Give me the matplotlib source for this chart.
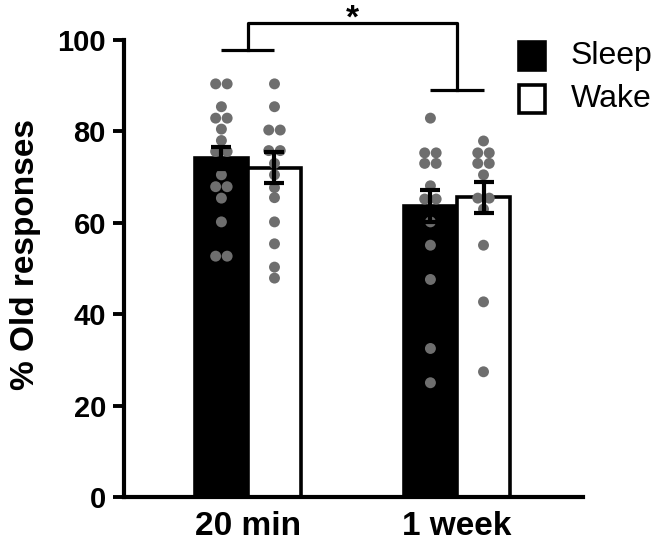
import matplotlib
matplotlib.use("Agg")
import matplotlib.pyplot as plt
from matplotlib.patches import Rectangle
import numpy as np

plt.rcParams['font.family'] = ['Liberation Sans', 'DejaVu Sans']

groups = ["20 min", "1 week"]
conditions = ["Sleep", "Wake"]
means = {"Sleep": [74.1, 63.7], "Wake": [72.1, 65.6]}
sems = {"Sleep": [2.4, 3.5], "Wake": [3.3, 3.4]}

sleep_20 = [90.4, 90.4, 85.4, 82.9, 82.9, 80.5, 78.0, 75.6, 75.6, 70.5, 67.9, 67.9, 65.4, 60.2, 52.7, 52.7]
wake_20 = [90.4, 85.4, 80.3, 80.3, 75.8, 75.8, 73.0, 70.5, 67.7, 65.5, 60.2, 55.4, 50.3, 47.9]
sleep_1w = [82.9, 75.3, 75.3, 73.0, 73.0, 68.1, 65.2, 65.2, 60.2, 55.1, 47.6, 32.5, 25.0]
wake_1w = [77.9, 75.3, 75.3, 73.0, 73.0, 70.5, 65.4, 65.4, 63.0, 55.1, 42.7, 27.4]
points = {"Sleep": [sleep_20, sleep_1w], "Wake": [wake_20, wake_1w]}

yticks = [0, 20, 40, 60, 80, 100]

fig = plt.figure(figsize=(6.61, 5.44), dpi=100)
ax = fig.add_axes([124/661, 47/544, 459/661, 457/544])

width = 0.254
x = np.arange(len(groups))
offsets = {"Sleep": -width/2, "Wake": width/2}
faces = {"Sleep": "black", "Wake": "white"}

for cond in conditions:
    xs = x + offsets[cond]
    ax.bar(xs, means[cond], width=width, color=faces[cond], edgecolor="black",
           linewidth=2.6, zorder=2)
    for gi, vals in enumerate(points[cond]):
        vals = np.array(vals)
        # swarm-like offsets for duplicate values
        px = np.zeros(len(vals))
        for v in np.unique(vals):
            idx = np.where(vals == v)[0]
            n = len(idx)
            for j, i in enumerate(idx):
                px[i] = (j - (n - 1) / 2) * 0.055
        ax.scatter(xs[gi] + px, vals, s=62, color="#6e6e6e", edgecolors="none", zorder=3)
    ax.errorbar(xs, means[cond], yerr=sems[cond], fmt="none", ecolor="black",
                elinewidth=3, capsize=7.5, capthick=3, zorder=4)

ax.set_xlim(-0.593, 1.603)
ax.set_ylim(0, 100)
ax.set_yticks(yticks)
ax.set_xticks(x)
ax.set_xticklabels(groups, fontsize=24, fontweight="bold")
ax.set_yticklabels([str(t) for t in yticks], fontsize=21, fontweight="bold")
ax.tick_params(axis="y", length=8, width=2.8, pad=5)
ax.tick_params(axis="x", length=0, pad=10)
for s in ["top", "right"]:
    ax.spines[s].set_visible(False)
for s in ["left", "bottom"]:
    ax.spines[s].set_linewidth(3)
ax.set_ylabel("% Old responses", fontsize=24, fontweight="bold")
ax.yaxis.set_label_coords(-0.18, 0.53)

# significance bracket
c0, c1 = x[0], x[1]
lw = 2.3
kw = dict(color="black", lw=lw, clip_on=False, solid_capstyle="butt")
ax.plot([c0 - width/2, c0 + width/2], [97.8, 97.8], **kw)
ax.plot([c1 - width/2, c1 + width/2], [89.1, 89.1], **kw)
ax.plot([c0, c0, c1, c1], [97.8, 103.7, 103.7, 89.1], color="black", lw=lw, clip_on=False)
ax.text((c0 + c1) / 2, 102.7, "*", ha="center", va="baseline", fontsize=24, fontweight="bold")

# legend
for i, cond in enumerate(conditions):
    yc = 1 - (56 + 43 * i) / 544
    fig.patches.append(Rectangle((519/661, yc - 14/544), 26/661, 28/544,
                                 transform=fig.transFigure, facecolor=faces[cond],
                                 edgecolor="black", linewidth=2.6))
    fig.text(571/661, yc, cond, fontsize=23, va="center", ha="left")

fig.savefig("out.png", dpi=100)
